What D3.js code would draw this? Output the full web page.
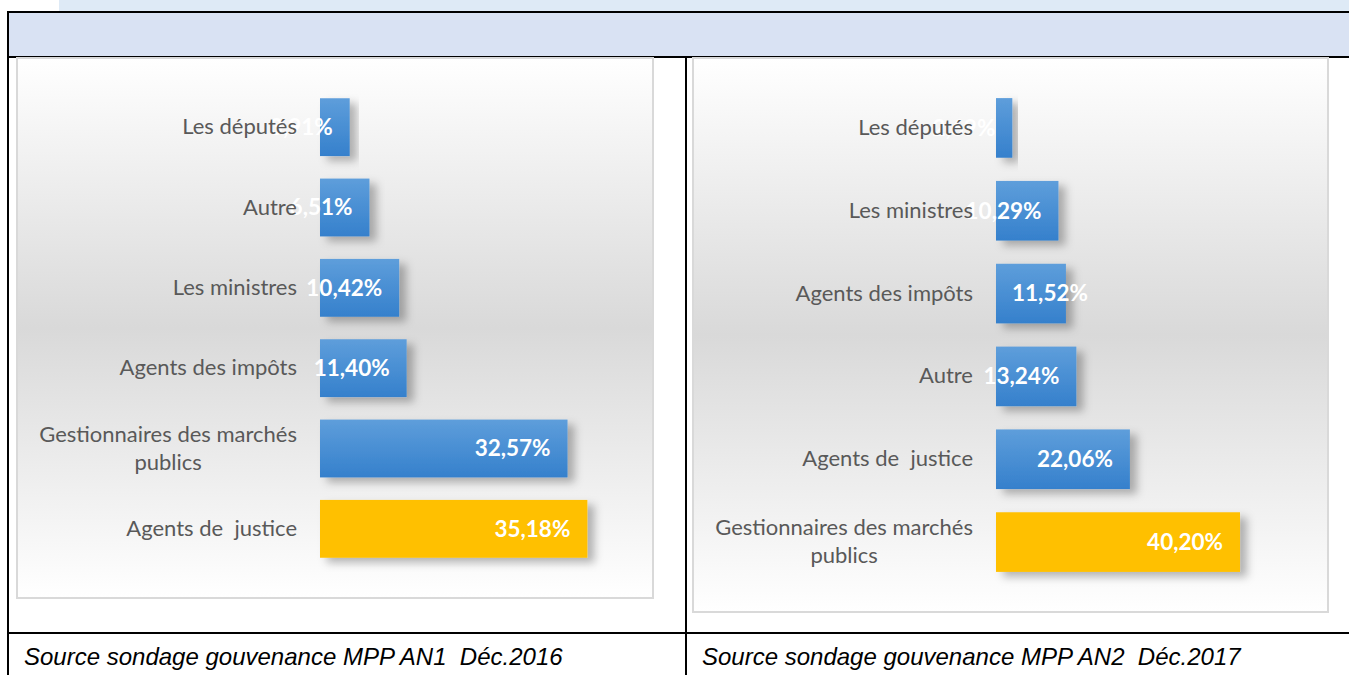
<!DOCTYPE html>
<html>
<head>
<meta charset="utf-8">
<script src="https://cdn.jsdelivr.net/npm/d3@7"></script>
<style>
  body { margin: 0; background: #fff; }
  .cat { font-family: Lato, "Open Sans", sans-serif; font-size: 22px; fill: #595959; white-space: pre; }
  .val { font-family: Lato, "Open Sans", sans-serif; font-size: 22.5px; font-weight: bold; fill: #fff; }
  .src { font-family: "Liberation Sans", Arial, sans-serif; font-size: 24px; font-style: italic; fill: #000; white-space: pre; }
</style>
</head>
<body>
<div id="chart"></div>
<script>
// data
var cats2016 = ["Les députés", "Autre", "Les ministres", "Agents des impôts", "Gestionnaires des marchés\npublics", "Agents de  justice"];
var vals2016 = [3.91, 6.51, 10.42, 11.40, 32.57, 35.18];
var labels2016 = ["3,91%", "6,51%", "10,42%", "11,40%", "32,57%", "35,18%"];

var cats2017 = ["Les députés", "Les ministres", "Agents des impôts", "Autre", "Agents de  justice", "Gestionnaires des marchés\npublics"];
var vals2017 = [2.69, 10.29, 11.52, 13.24, 22.06, 40.20];
var labels2017 = ["2,69%", "10,29%", "11,52%", "13,24%", "22,06%", "40,20%"];

var sources = ["Source sondage gouvenance MPP AN1  Déc.2016", "Source sondage gouvenance MPP AN2  Déc.2017"];

var svgWidth = 1349;
var svgHeight = 675;

var svg = d3.select("#chart")
  .append("svg")
  .attr("width", svgWidth)
  .attr("height", svgHeight);

var defs = svg.append("defs");

// chart area background: light at top and bottom, grey in the middle
var bg = defs.append("linearGradient")
  .attr("id", "bgGrad")
  .attr("x1", 0).attr("y1", 0).attr("x2", 0).attr("y2", 1);
bg.append("stop").attr("offset", "0%").attr("stop-color", "#ffffff");
bg.append("stop").attr("offset", "50%").attr("stop-color", "#d9d9d9");
bg.append("stop").attr("offset", "100%").attr("stop-color", "#ffffff");

var blue = defs.append("linearGradient")
  .attr("id", "blueGrad")
  .attr("x1", 0).attr("y1", 0).attr("x2", 0).attr("y2", 1);
blue.append("stop").attr("offset", "0%").attr("stop-color", "#5e9edb");
blue.append("stop").attr("offset", "100%").attr("stop-color", "#3580cc");

var shadow = defs.append("filter")
  .attr("id", "shadow")
  .attr("x", "-10%").attr("y", "-20%")
  .attr("width", "140%").attr("height", "160%");
shadow.append("feDropShadow")
  .attr("dx", 7).attr("dy", 5)
  .attr("stdDeviation", 4)
  .attr("flood-color", "#000")
  .attr("flood-opacity", 0.28);

// table frame
svg.append("rect")
  .attr("x", 59).attr("y", 0)
  .attr("width", svgWidth - 59).attr("height", 12)
  .attr("fill", "#deeaf6");
svg.append("rect")
  .attr("x", 8).attr("y", 12)
  .attr("width", svgWidth - 8).attr("height", 45)
  .attr("fill", "#d9e2f3");

var frame = svg.append("g").attr("stroke", "#000").attr("stroke-width", 2);
frame.append("line").attr("x1", 7).attr("x2", svgWidth).attr("y1", 12).attr("y2", 12);
frame.append("line").attr("x1", 7).attr("x2", svgWidth).attr("y1", 57).attr("y2", 57);
frame.append("line").attr("x1", 7).attr("x2", svgWidth).attr("y1", 633).attr("y2", 633);
frame.append("line").attr("x1", 8).attr("x2", 8).attr("y1", 11).attr("y2", svgHeight);
frame.append("line").attr("x1", 686).attr("x2", 686).attr("y1", 57).attr("y2", svgHeight);

function drawChart(opts) {
  var g = svg.append("g");

  g.append("rect")
    .attr("x", opts.box[0]).attr("y", opts.box[1])
    .attr("width", opts.box[2] - opts.box[0])
    .attr("height", opts.box[3] - opts.box[1])
    .attr("fill", "url(#bgGrad)")
    .attr("stroke", "#d9d9d9")
    .attr("stroke-width", 2);

  var x = d3.scaleLinear()
    .domain([0, opts.max])
    .range([opts.x0, opts.x1]);

  var y = d3.scaleBand()
    .domain(opts.cats)
    .range([opts.y0, opts.y1])
    .paddingInner(0.28)
    .paddingOuter(0.14);

  var rows = opts.cats.map(function(c, i) {
    return { cat: c, value: opts.vals[i], label: opts.labels[i], top: i === opts.cats.length - 1 };
  });

  g.selectAll(".bar")
    .data(rows)
    .enter()
    .append("rect")
    .attr("class", "bar")
    .attr("x", x(0))
    .attr("y", d => y(d.cat))
    .attr("width", d => x(d.value) - x(0))
    .attr("height", y.bandwidth())
    .attr("fill", d => d.top ? "#ffc000" : "url(#blueGrad)")
    .attr("filter", "url(#shadow)");

  // value labels, inside end
  g.selectAll(".val")
    .data(rows)
    .enter()
    .append("text")
    .attr("class", "val")
    .attr("x", d => x(d.value) - 17 + (opts.nudge[d.cat] || 0))
    .attr("y", d => y(d.cat) + y.bandwidth() / 2)
    .attr("dy", "0.35em")
    .attr("text-anchor", "end")
    .text(d => d.label);

  // category axis, drawn last so the names sit over the values
  var axis = g.append("g")
    .attr("transform", `translate(${x(0)},0)`)
    .call(d3.axisLeft(y).tickSize(0).tickPadding(23));
  axis.select(".domain").remove();
  axis.selectAll(".tick text")
    .attr("class", "cat")
    .attr("font-size", null)
    .attr("font-family", null)
    .attr("fill", null)
    .each(function(d) {
      var lines = d.split("\n");
      if (lines.length < 2) return;
      var t = d3.select(this).text(null).attr("dy", null);
      var tsp = lines.map(function(l, i) {
        return t.append("tspan").attr("x", 0).attr("dy", i === 0 ? "-0.31em" : "1.27em").text(l);
      });
      var w = d3.max(tsp, s => s.node().getComputedTextLength());
      t.attr("text-anchor", "middle");
      tsp.forEach(s => s.attr("x", -23 - w / 2));
    });

  svg.append("text")
    .attr("class", "src")
    .attr("x", opts.srcX)
    .attr("y", 665)
    .text(opts.source);
}

drawChart({
  cats: cats2016, vals: vals2016, labels: labels2016,
  box: [17, 58, 653, 598],
  max: 40, x0: 320, x1: 624,
  y0: 87, y1: 569,
  nudge: {},
  source: sources[0], srcX: 24
});

drawChart({
  cats: cats2017, vals: vals2017, labels: labels2017,
  box: [693, 58, 1328, 612],
  max: 50, x0: 996, x1: 1299.5,
  y0: 86.5, y1: 583.5,
  nudge: { "Agents des impôts": 39 },
  source: sources[1], srcX: 702
});
</script>
</body>
</html>
